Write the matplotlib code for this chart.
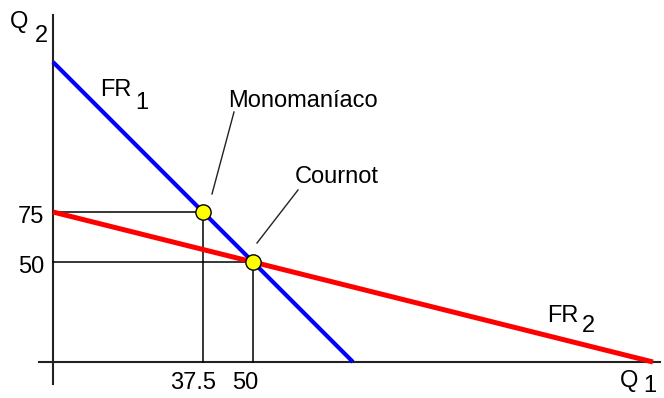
import matplotlib.pyplot as plt

# Funciones de reaccion (Q2 en funcion de Q1)
fr1_q1 = [0, 75]      # FR1: Q2 = 150 - 2*Q1
fr1_q2 = [150, 0]
fr2_q1 = [0, 150]     # FR2: Q2 = 75 - Q1/2
fr2_q2 = [75, 0]

# Puntos de equilibrio
puntos_q1 = [37.5, 50]
puntos_q2 = [75, 50]
nombres = ['Monomaníaco', 'Cournot']

ticks_x = [37.5, 50]
ticks_x_lab = ['37.5', '50']
ticks_y = [75, 50]
ticks_y_lab = ['75', '50']

plt.rcParams['font.family'] = ['Liberation Sans', 'DejaVu Sans']
fs = 17

fig = plt.figure(figsize=(6.64, 3.98), dpi=100)
ax = fig.add_axes([0, 0, 1, 1])
ax.set_xlim(-13.25, 152.75)
ax.set_ylim(-18, 181)
ax.axis('off')

# Ejes
ax.plot([0, 0], [-11, 173.5], color='#222222', lw=1.5, zorder=1)
ax.plot([-3.5, 151.75], [0, 0], color='#222222', lw=1.5, zorder=1)

# Lineas guia
for qx, qy in zip(puntos_q1, puntos_q2):
    ax.plot([0, qx], [qy, qy], color='black', lw=1.1, zorder=2)
    ax.plot([qx, qx], [0, qy], color='black', lw=1.1, zorder=2)

# Funciones de reaccion
ax.plot(fr1_q1, fr1_q2, color='#0000ff', lw=3.0, zorder=3, solid_capstyle='butt')
ax.plot(fr2_q1, fr2_q2, color='#ff0000', lw=3.6, zorder=3, solid_capstyle='butt')

# Puntos
ax.plot(puntos_q1, puntos_q2, 'o', color='#ffff00', markeredgecolor='black',
        markeredgewidth=1.0, markersize=11, zorder=4)

# Etiquetas de los ejes
for val, lab in zip(ticks_y, ticks_y_lab):
    ax.text(-2.2, val - 5.5, lab, fontsize=fs, ha='right', va='baseline')
for val, lab in zip(ticks_x, ticks_x_lab):
    ax.text(val - 2.5 if lab == '37.5' else val - 2, -13.5, lab, fontsize=fs,
            ha='center', va='baseline')

ax.text(-10.75, 167, 'Q', fontsize=fs, ha='left', va='baseline')
ax.text(-4.5, 160, '2', fontsize=fs, ha='left', va='baseline')
ax.text(141.75, -12.5, 'Q', fontsize=fs, ha='left', va='baseline')
ax.text(147.5, -15, '1', fontsize=fs, ha='left', va='baseline')

ax.text(11.75, 133, 'FR', fontsize=fs, ha='left', va='baseline')
ax.text(20.5, 126.5, '1', fontsize=fs, ha='left', va='baseline')
ax.text(123.5, 20, 'FR', fontsize=fs, ha='left', va='baseline')
ax.text(132.25, 15, '2', fontsize=fs, ha='left', va='baseline')

# Nombres y lineas de referencia
ax.text(43.75, 127.5, nombres[0], fontsize=fs, ha='left', va='baseline')
ax.plot([45.25, 39.75], [125, 84], color='#222222', lw=1.0)
ax.text(60.5, 89.5, nombres[1], fontsize=fs, ha='left', va='baseline')
ax.plot([61.25, 51], [86, 59.5], color='#222222', lw=1.0)

plt.savefig('out.png', dpi=100)
